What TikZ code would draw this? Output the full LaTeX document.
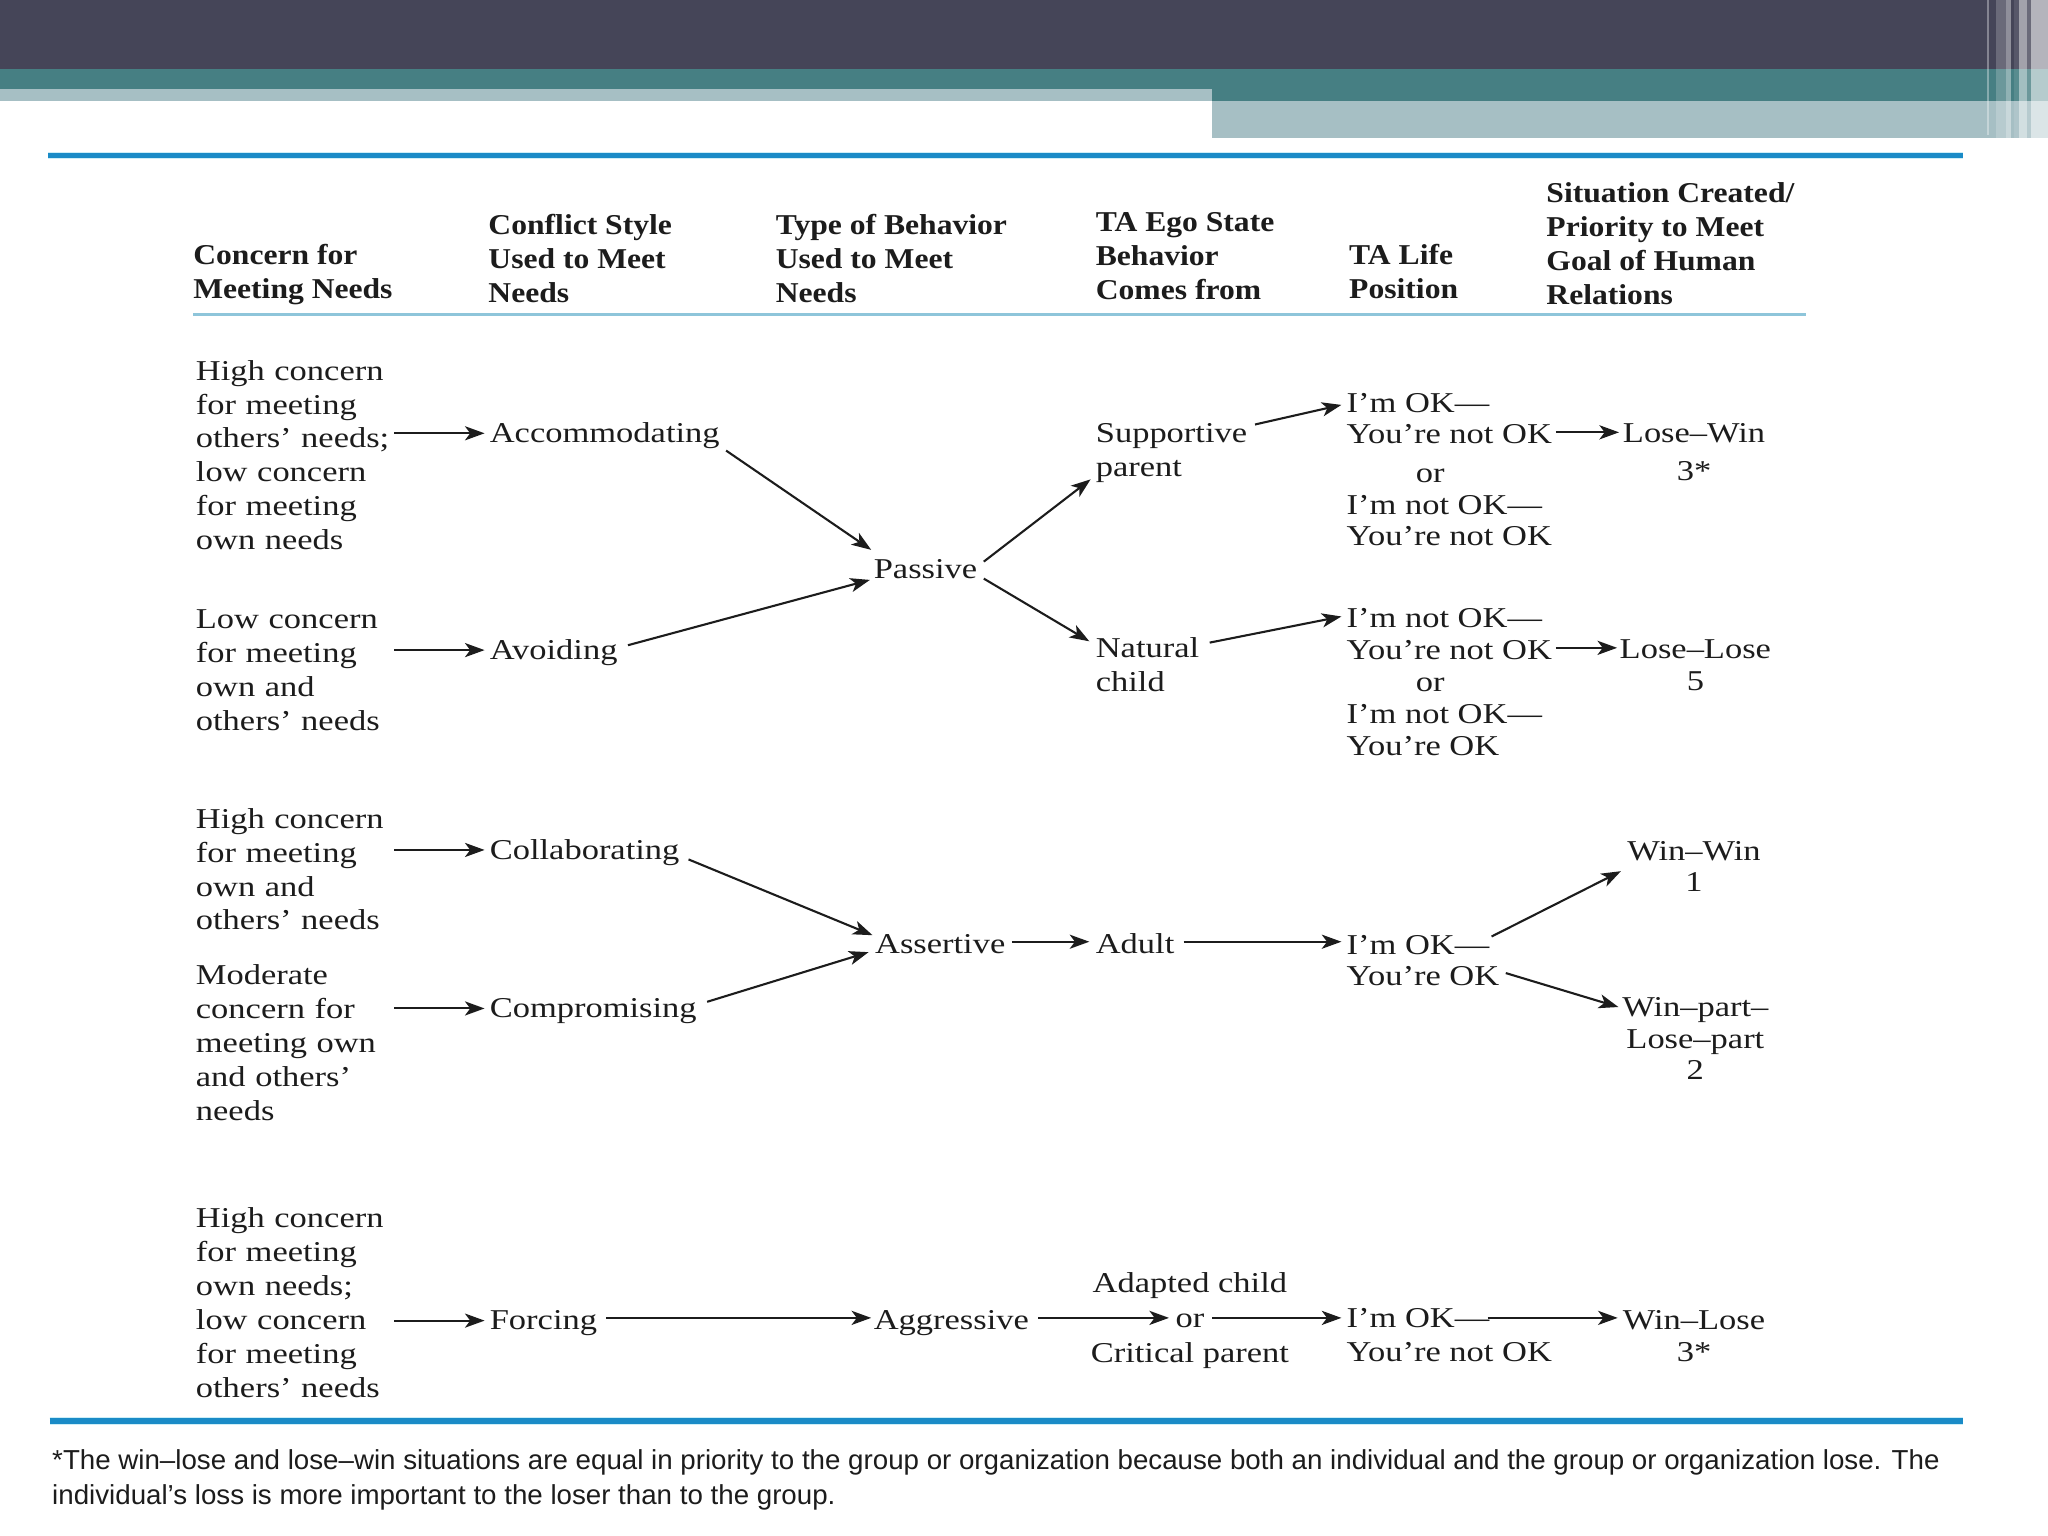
\documentclass[tikz,border=0pt]{standalone}
\usepackage{fontspec}
\usetikzlibrary{arrows.meta,calc}
\newfontfamily\bodyfont{Liberation Serif}[FakeStretch=1.2]
\newfontfamily\headfont{Liberation Serif}[FakeStretch=1.1]
\newfontfamily\footfont{Liberation Sans}[FakeStretch=1.01]
\newcommand\tstrut{\rule{0pt}{9pt}}
\definecolor{bandDark}{HTML}{454558}
\definecolor{bandTeal}{HTML}{467F83}
\definecolor{bandLight}{HTML}{A6BFC4}
\definecolor{topblue}{HTML}{1A8BC7}
\definecolor{halo}{HTML}{CDEEF7}
\definecolor{hdrline}{HTML}{8EC5DA}
\definecolor{ink}{HTML}{1C1C1C}
\begin{document}
\begin{tikzpicture}[x=0.5pt,y=-0.5pt,
  txt/.style={inner sep=0pt, outer sep=0pt, text=ink},
  one/.style={txt, anchor=base west, font=\bodyfont\fontsize{11}{13}\selectfont},
  blk/.style={txt, anchor=north west, align=left, font=\bodyfont\fontsize{11}{#1}\selectfont, execute at begin node=\tstrut},
  blk/.default=13,
  cblk/.style={txt, anchor=north, align=center, font=\bodyfont\fontsize{11}{#1}\selectfont, execute at begin node=\tstrut},
  cblk/.default=13,
  lcol/.style={blk, text width=76pt},
  head/.style={txt, anchor=north west, align=left, font=\headfont\bfseries\fontsize{11}{13}\selectfont, execute at begin node=\tstrut},
  arr/.style={draw=ink, line width=0.8pt, -{Stealth[length=7.5pt,width=5.4pt,inset=2pt]}}
]
\useasboundingbox (0,0) rectangle (1568,1176);
\fill[white] (0,0) rectangle (1568,1176);
% banner
\fill[bandDark] (0,0) rectangle (1568,53);
\fill[bandTeal] (0,53) rectangle (1568,68);
\fill[bandTeal] (928,68) rectangle (1568,77);
\fill[bandLight] (0,68) rectangle (928,77);
\fill[bandLight] (928,77) rectangle (1568,106);
\fill[white, opacity=0.35] (1521,0) rectangle (1523,103);
\fill[white, opacity=0.2] (1528,0) rectangle (1536,106);
\fill[white, opacity=0.4] (1536,0) rectangle (1540,106);
\fill[white, opacity=0.1] (1542,0) rectangle (1546,106);
\fill[white, opacity=0.5] (1546,0) rectangle (1552,106);
\fill[white, opacity=0.2] (1552,0) rectangle (1555,106);
\fill[white, opacity=0.6] (1555,0) rectangle (1568,106);
% rules
\draw[halo, line width=3pt] (37,119) -- (1503,119);
\draw[topblue, line width=2pt] (37,119) -- (1503,119);
\draw[hdrline, line width=1pt] (148,241) -- (1383,241);
\draw[halo, line width=3pt] (38,1088) -- (1503,1088);
\draw[topblue, line width=2pt] (38,1088) -- (1503,1088);
% headers
\node[head] (hA) at (148,187) {Concern for\\Meeting Needs};
\node[head] (hB) at (374,164) {Conflict Style\\Used to Meet\\Needs};
\node[head] (hC) at (594,164) {Type of Behavior\\Used to Meet\\Needs};
\node[head] (hD) at (839,163) {TA Ego State\\Behavior\\Comes from};
\node[head] (hE) at (1033,187) {TA Life\\Position};
\node[head] (hF) at (1184,140) {Situation Created/\\Priority to Meet\\Goal of Human\\Relations};
% left column
\node[lcol] (g1) at (150,273) {High concern\\for meeting\\others’ needs;\\low concern\\for meeting\\own needs};
\node[lcol] (g2) at (150,463) {Low concern\\for meeting\\own and\\others’ needs};
\node[lcol] (g3) at (150,616) {High concern\\for meeting\\own and\\others’ needs};
\node[lcol] (g4) at (150,736) {Moderate\\concern for\\meeting own\\and others’\\needs};
\node[lcol] (g5) at (150,922) {High concern\\for meeting\\own needs;\\low concern\\for meeting\\others’ needs};
% conflict styles
\node[one] (acc) at (375,339) {Accommodating};
\node[one] (avo) at (375,505) {Avoiding};
\node[one] (col) at (375,658) {Collaborating};
\node[one] (com) at (375,779) {Compromising};
\node[one] (forc) at (375,1018) {Forcing};
% behaviour
\node[one] (pas) at (669,443) {Passive};
\node[one] (ass) at (670,730) {Assertive};
\node[one] (agg) at (669,1018) {Aggressive};
% ego states
\node[blk] (sup) at (839,324) {Supportive\\parent};
\node[blk] (nat) at (839,488) {Natural\\child};
\node[one] (adu) at (839,730) {Adult};
\node[cblk=13.5] (ada) at (911,974) {Adapted child\\or\\Critical parent};
% life positions
\node[blk=12] (lp1) at (1031,301) {I’m OK—\\You’re not OK\\[3pt]\hspace*{26.5pt}or\\I’m not OK—\\You’re not OK};
\node[blk=12.25] (lp2) at (1031,466) {I’m not OK—\\You’re not OK\\\hspace*{26.5pt}or\\I’m not OK—\\You’re OK};
\node[blk=12] (lp3) at (1031,716) {I’m OK—\\You’re OK};
\node[blk=13] (lp4) at (1031,1002) {I’m OK—\\You’re not OK};
% situations
\node[cblk=14.5] (s1) at (1297,324) {Lose–Win\\3*};
\node[cblk=12] (s2) at (1298,490) {Lose–Lose\\5};
\node[cblk=12] (s3) at (1297,644) {Win–Win\\1};
\node[cblk=12] (s4) at (1298,764) {Win–part–\\Lose–part\\2};
\node[cblk=12.5] (s5) at (1297,1003) {Win–Lose\\3*};
% footnote
\node[txt, anchor=north west, align=left, font=\footfont\fontsize{10.5}{13.25}\selectfont, execute at begin node=\tstrut] (fn) at (40,1110) {*The win–lose and lose–win situations are equal in priority to the group or organization because both an individual and the group or organization lose. The\\individual’s loss is more important to the loser than to the group.};
% arrows
\draw[arr] ($(g1.east |- acc.west)+(0,-2)$) -- ($(acc.west)+(-4,-2)$);
\draw[arr] ($(g2.east |- avo.west)+(0,-2)$) -- ($(avo.west)+(-4,-2)$);
\draw[arr] ($(g3.east |- col.west)+(0,-2)$) -- ($(col.west)+(-4,-2)$);
\draw[arr] ($(g4.east |- com.west)+(0,-2)$) -- ($(com.west)+(-4,-2)$);
\draw[arr] ($(g5.east |- forc.west)+(0,-2)$) -- ($(forc.west)+(-4,-2)$);
\draw[arr] ($(acc.base east)+(5,6)$) -- ($(pas.base west)+(-2,-22)$);
\draw[arr] ($(avo.base east)+(8,-11)$) -- ($(pas.base west)+(-3,1)$);
\draw[arr] ($(pas.base east)+(5,-13)$) -- ($(sup.north west)+(-4,43)$);
\draw[arr] ($(pas.base east)+(5,0)$) -- ($(nat.north west)+(-5,3)$);
\draw[arr] ($(sup.north east)+(6,1)$) -- ($(lp1.north west)+(-4,9)$);
\draw[arr] ($(nat.north east)+(8,4)$) -- ($(lp2.north west)+(-4,6)$);
\draw[arr] ($(lp1.north east)+(3,30)$) -- ($(s1.north west)+(-3,7)$);
\draw[arr] ($(lp2.north east)+(3,30)$) -- ($(s2.north west)+(-2,6)$);
\draw[arr] ($(col.base east)+(7,0)$) -- ($(ass.base west)+(-2,-14)$);
\draw[arr] ($(com.base east)+(8,-12)$) -- ($(ass.base west)+(-5,-1)$);
\draw[arr] ($(ass.base east)+(5,-9)$) -- ($(adu.base west)+(-5,-9)$);
\draw[arr] ($(adu.base east)+(7,-9)$) -- ($(lp3.north west)+(-4,5)$);
\draw[arr] ($(lp3.north west)+(111,1)$) -- ($(s3.north west)+(-5,23)$);
\draw[arr] ($(lp3.north east)+(5,29)$) -- ($(s4.north west)+(-3,7)$);
\draw[arr] ($(forc.base east)+(7,-9)$) -- ($(agg.base west)+(-2,-9)$);
\draw[arr] ($(agg.base east)+(7,-9)$) -- ($(ada.north)+(-16,35)$);
\draw[arr] ($(ada.north)+(17,35)$) -- ($(lp4.north west)+(-4,7)$);
\draw[arr] ($(lp4.north west)+(108,7)$) -- ($(s5.north west)+(-4,6)$);
\end{tikzpicture}
\end{document}
